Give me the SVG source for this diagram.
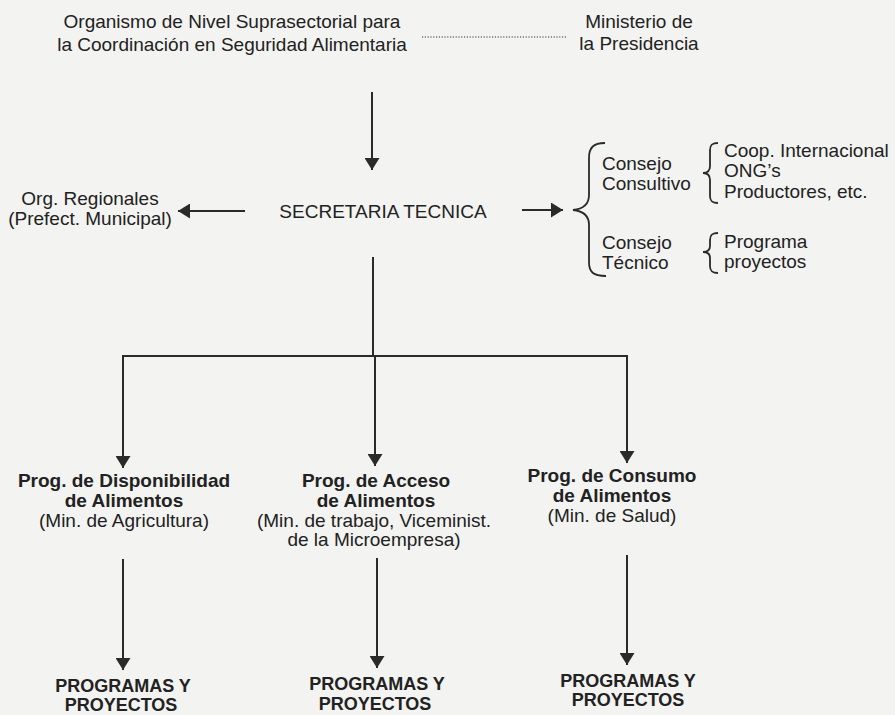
<svg xmlns="http://www.w3.org/2000/svg" width="895" height="715" viewBox="0 0 895 715">
<defs>
<style>
text{font-family:"Liberation Sans",Arial,sans-serif;font-size:19px;fill:#222}
.c{text-anchor:middle}
.b{font-weight:bold}
.cap{font-weight:bold;font-size:18px}
.ln{stroke:#2a2a2a;stroke-width:2;fill:none}
.br{stroke:#2a2a2a;stroke-width:1.8;fill:none}
.dot{stroke:#333;stroke-width:1.2;stroke-dasharray:1.2 1.6;fill:none}
</style>
<marker id="ah" viewBox="0 0 12 15" refX="12" refY="7.5" markerWidth="12" markerHeight="15" markerUnits="userSpaceOnUse" orient="auto">
<path d="M0,0 L12,7.5 L0,15 Z" fill="#2a2a2a"/>
</marker>
</defs>
<rect width="895" height="715" fill="#f3f3f1"/>

<g id="connectors">
<line class="dot" x1="422" y1="37" x2="567" y2="37"/>
<line class="ln" x1="372" y1="92" x2="372" y2="170" marker-end="url(#ah)"/>
<line class="ln" x1="245" y1="211" x2="178" y2="211" marker-end="url(#ah)"/>
<line class="ln" x1="522" y1="210" x2="563" y2="210" marker-end="url(#ah)"/>
<polyline class="ln" points="373,257 373,356"/>
<polyline class="ln" points="123,356 627,356 627,463" marker-end="url(#ah)"/>
<line class="ln" x1="123" y1="355" x2="123" y2="468" marker-end="url(#ah)"/>
<line class="ln" x1="375" y1="356" x2="375" y2="466" marker-end="url(#ah)"/>
<line class="ln" x1="123" y1="559" x2="123" y2="670" marker-end="url(#ah)"/>
<line class="ln" x1="377" y1="558" x2="377" y2="668" marker-end="url(#ah)"/>
<line class="ln" x1="627" y1="555" x2="627" y2="665" marker-end="url(#ah)"/>
</g>

<g id="organismo">
<text class="c" x="232" y="28">Organismo de Nivel Suprasectorial para</text>
<text class="c" x="232" y="51">la Coordinación en Seguridad Alimentaria</text>
</g>

<g id="ministerio">
<text class="c" x="639" y="28">Ministerio de</text>
<text class="c" x="639" y="50">la Presidencia</text>
</g>

<g id="org-regionales">
<text class="c" x="90" y="205">Org. Regionales</text>
<text class="c" x="90" y="225">(Prefect. Municipal)</text>
</g>

<g id="secretaria">
<text class="c" x="383" y="218">SECRETARIA TECNICA</text>
</g>

<g id="consejos">
<path class="br" d="M605,143 C593,143 589,148 589,158 L589,195 C589,205 583,209 573,210 C583,211 589,215 589,225 L589,262 C589,272 593,276 606,276"/>
<text x="602" y="170">Consejo</text>
<text x="602" y="190">Consultivo</text>
<text x="602" y="249">Consejo</text>
<text x="602" y="269">Técnico</text>
</g>

<g id="consultivo-miembros">
<path class="br" d="M718,143 C712,143 710,145 710,150 L710,166 C710,171 708,173 703,173 C708,173 710,175 710,180 L710,196 C710,201 712,203 718,203"/>
<text x="724" y="157">Coop. Internacional</text>
<text x="724" y="177">ONG’s</text>
<text x="724" y="198">Productores, etc.</text>
</g>

<g id="tecnico-miembros">
<path class="br" d="M718,233 C712,233 710,235 710,240 L710,246 C710,250 708,252 703,252 C708,252 710,254 710,258 L710,266 C710,271 712,273 718,273"/>
<text x="724" y="248">Programa</text>
<text x="724" y="268">proyectos</text>
</g>

<g id="prog-disponibilidad">
<text class="c b" x="124" y="487">Prog. de Disponibilidad</text>
<text class="c b" x="124" y="507">de Alimentos</text>
<text class="c" x="124" y="527">(Min. de Agricultura)</text>
</g>

<g id="prog-acceso">
<text class="c b" x="376" y="487">Prog. de Acceso</text>
<text class="c b" x="376" y="507">de Alimentos</text>
<text class="c" x="374" y="527">(Min. de trabajo, Viceminist.</text>
<text class="c" x="374" y="546">de la Microempresa)</text>
</g>

<g id="prog-consumo">
<text class="c b" x="612" y="482">Prog. de Consumo</text>
<text class="c b" x="612" y="502">de Alimentos</text>
<text class="c" x="612" y="522">(Min. de Salud)</text>
</g>

<g id="programas-1">
<text class="c cap" x="123" y="692">PROGRAMAS Y</text>
<text class="c cap" x="121" y="711">PROYECTOS</text>
</g>
<g id="programas-2">
<text class="c cap" x="377" y="690">PROGRAMAS Y</text>
<text class="c cap" x="375" y="710">PROYECTOS</text>
</g>
<g id="programas-3">
<text class="c cap" x="628" y="687">PROGRAMAS Y</text>
<text class="c cap" x="628" y="706">PROYECTOS</text>
</g>
</svg>
